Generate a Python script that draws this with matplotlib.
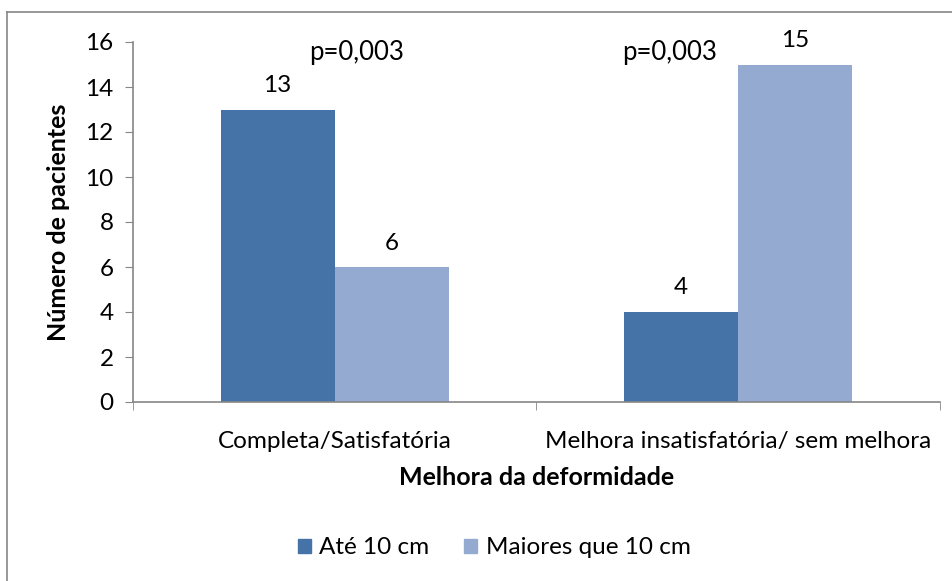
import matplotlib
matplotlib.use("Agg")
import matplotlib.pyplot as plt
from matplotlib.lines import Line2D
from matplotlib.patches import Patch
import numpy as np

categories = ["Completa/Satisfatória", "Melhora insatisfatória/ sem melhora"]
series_names = ["Até 10 cm", "Maiores que 10 cm"]
ate_10 = [13, 4]
maiores_10 = [6, 15]
p_values = ["p=0,003", "p=0,003"]
y_ticks = [0, 2, 4, 6, 8, 10, 12, 14, 16]

dark = "#4572A7"
light = "#95AAD1"
grey = "#868686"

plt.rcParams["font.family"] = ["Lato", "DejaVu Sans"]

W, H = 953, 581
fig = plt.figure(figsize=(W / 100, H / 100), dpi=100)

# chart-area frame (left and top edges visible)
fig.add_artist(Line2D([7 / W, 7 / W], [0, 1 - 12 / H], color=grey, lw=1.2,
                      transform=fig.transFigure))
fig.add_artist(Line2D([7 / W, 1], [1 - 12 / H, 1 - 12 / H], color=grey, lw=1.2,
                      transform=fig.transFigure))

left, right, top, bottom = 133, 940, 42, 402
ax = fig.add_axes([left / W, 1 - bottom / H, (right - left) / W, (bottom - top) / H])

x = np.arange(len(categories))
bw = 0.283
b1 = ax.bar(x - bw / 2, ate_10, width=bw, color=dark, label=series_names[0])
b2 = ax.bar(x + bw / 2, maiores_10, width=bw, color=light, label=series_names[1])

for bars, vals in ((b1, ate_10), (b2, maiores_10)):
    for rect, v in zip(bars, vals):
        ax.text(rect.get_x() + rect.get_width() / 2, v + 0.6, str(v),
                ha="center", va="bottom", fontsize=17.5)

p_x = [0.055, 0.83]
for px, txt in zip(p_x, p_values):
    ax.text(px, 15.55, txt, ha="center", va="center", fontsize=18.5)

ax.set_xlim(-0.5, 1.5)
ax.set_ylim(0, 16)
ax.set_yticks(y_ticks)
ax.tick_params(axis="y", labelsize=17.5, length=6, color=grey, pad=8)
ax.set_xticks([-0.5, 0.5, 1.5], minor=True)
ax.set_xticks(x)
ax.set_xticklabels(categories, fontsize=17.5)
ax.tick_params(axis="x", which="major", length=0, pad=21)
ax.tick_params(axis="x", which="minor", length=6, color=grey)
for s in ("top", "right"):
    ax.spines[s].set_visible(False)
for s in ("left", "bottom"):
    ax.spines[s].set_color(grey)
    ax.spines[s].set_linewidth(1.2)

ax.set_ylabel("Número de pacientes", fontsize=18, fontweight="bold", labelpad=11)
ax.set_xlabel("Melhora da deformidade", fontsize=18, fontweight="bold", labelpad=10)

handles = [Patch(color=dark), Patch(color=light)]
fig.legend(handles, series_names, loc="center", bbox_to_anchor=(494 / W, 1 - 548 / H),
           ncol=2, frameon=False, fontsize=17.5, handlelength=0.55, handleheight=0.55,
           handletextpad=0.35, columnspacing=1.4)

fig.savefig("out.png", dpi=100, facecolor="white")
